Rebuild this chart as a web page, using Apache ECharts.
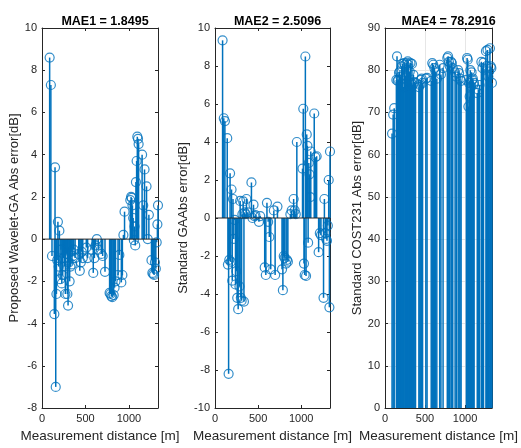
<!DOCTYPE html>
<html>
<head>
<meta charset="utf-8">
<script src="https://cdn.jsdelivr.net/npm/echarts@6/dist/echarts.min.js"></script>
<style>html,body{margin:0;padding:0;background:#fff}#c{width:521px;height:448px}</style>
</head>
<body>
<div id="c"></div>
<script>
// Measurement distances [m]
const dist = [88,102,115,142,150,158,166,175,183,192,200,209,218,228,238,248,258,269,284,292,300,309,318,327,336,345,355,365,381,423,435,447,458,469,510,525,577,590,603,617,631,647,683,698,725,778,788,798,808,825,835,846,875,890,913,925,937,950,1016,1025,1033,1041,1049,1057,1065,1073,1081,1089,1097,1105,1112,1152,1165,1180,1203,1217,1230,1260,1270,1280,1290,1300,1310,1320,1328,1335];
// Proposed Wavelet-GA error [dB]
const waveletErr = [8.6,7.3,-0.8,-3.55,3.4,-7.0,-2.6,-1.0,0.82,-1.3,0.4,-1.9,-0.5,-2.1,-1.7,-0.9,-1.3,-2.6,-0.7,-2.6,-3.15,-1.1,-2.0,-1.3,-0.6,-1.2,-0.8,-0.5,-0.9,-0.7,-1.5,-1.1,-0.6,-0.9,-0.4,-0.9,-0.5,-1.6,-0.9,-0.3,0.0,-0.5,-0.7,-0.8,-1.55,-2.55,-2.6,-2.7,-2.75,-2.65,-2.3,-2.0,-1.7,-0.75,-2.05,-1.7,0.2,1.3,1.85,2.0,1.95,1.6,1.0,-0.05,0.6,-0.3,2.7,3.7,4.85,4.75,4.5,4.0,1.6,3.3,2.5,0.0,1.15,-1.0,-1.6,-1.65,-1.7,-1.1,-1.4,-0.15,0.7,1.6];
// Standard GA error [dB]
const gaErr = [9.35,5.25,5.1,4.2,-2.45,-8.2,-2.2,2.35,-2.3,1.5,-3.3,1.0,-1.1,-0.1,-3.5,-2.8,-4.2,-4.8,-3.6,0.9,-4.2,-4.35,0.2,0.87,-4.4,0.3,0.2,1.0,0.3,1.87,0.0,0.7,0.1,0.15,-0.2,0.1,-2.6,-3.0,0.8,-0.2,-1.0,-2.7,0.4,-3.0,0.6,-2.7,-3.8,-2.0,-2.1,-2.4,-2.2,-2.3,0.2,0.4,1.0,0.4,0.2,4.0,2.6,5.75,-2.4,-3.0,8.5,-3.05,4.4,3.8,-1.3,2.9,2.3,1.1,3.5,5.5,3.2,3.25,-1.8,-0.8,-0.9,-4.2,1.0,-0.8,-1.1,-1.2,-0.4,2.0,-4.7,3.5];
// Standard COST231 error [dB]
const costErr = [65,69.5,71,77.7,83.3,77.5,77.8,79.4,79.7,78.5,77.7,80.9,81.5,76,81.7,81.3,78.7,81.7,82.1,81.3,76,79.7,81.7,77,81.5,76.5,78.9,77.2,77,76,76.5,77.7,78,77,78,78.2,77.5,81.7,81.3,80.5,79.7,78,81.3,79,80.5,82.9,83.3,82,81,82,81.7,80.5,79.5,78.5,80,79.3,78,77.5,77.7,82.9,82.5,71.4,77,73.8,80,76.2,79.5,77.7,78,76.6,77,74.6,75.4,76.5,82,80.5,81.8,84.5,81,84.8,78.5,79.7,85.2,80.9,80.5,77];

const titles = ['MAE1 = 1.8495', 'MAE2 = 2.5096', 'MAE4 = 78.2916'];
const yNames = ['Proposed Wavelet-GA Abs error[dB]', 'Standard GAAbs error[dB]', 'Standard COST231 Abs error[dB]'];
const xName = 'Measurement distance [m]';
const yMin = [-8, -10, 0];
const yMax = [10, 10, 90];
const yStep = [2, 2, 10];
const xTicks = [0, 500, 1000];
const xMax = 1335;

const panels = [waveletErr, gaErr, costErr];
const gridBox = [
  {left: 42, top: 28, width: 116, height: 380},
  {left: 215, top: 28, width: 115, height: 380},
  {left: 385, top: 28, width: 117, height: 380}
];
const nameGaps = [19, 24, 19];
const AX = '#262626';
const BLUE = '#0072BD';
const FONT = 'Liberation Sans, Arial, sans-serif';

const grid = [], xAxis = [], yAxis = [], series = [], title = [];
panels.forEach((vals, i) => {
  grid.push(gridBox[i]);
  const showGrid = i === 2;
  title.push({
    text: titles[i], left: gridBox[i].left + gridBox[i].width / 2, top: 10, textAlign: 'center',
    textStyle: {fontSize: 12.5, fontWeight: 'bold', color: '#000', fontFamily: FONT}
  });
  xAxis.push({
    type: 'value', gridIndex: i, min: 0, max: xMax, interval: 500, position: 'bottom',
    name: xName, nameLocation: 'middle', nameGap: 18,
    nameTextStyle: {fontSize: 13.5, color: AX, fontFamily: FONT},
    axisLine: {show: true, onZero: false, lineStyle: {color: AX, width: 1}},
    axisTick: {show: true, inside: true, length: 3, lineStyle: {color: AX}},
    axisLabel: {show: true, fontSize: 11, color: AX, fontFamily: FONT, margin: 5,
      formatter: v => xTicks.includes(v) ? String(v) : ''},
    splitLine: {show: showGrid, lineStyle: {color: '#e6e6e6', width: 1}}
  });
  xAxis.push({
    type: 'value', gridIndex: i, min: 0, max: xMax, interval: 500, position: 'top',
    axisLine: {show: true, onZero: false, lineStyle: {color: AX, width: 1}},
    axisTick: {show: true, inside: true, length: 3, lineStyle: {color: AX}},
    axisLabel: {show: false}, splitLine: {show: false}
  });
  yAxis.push({
    type: 'value', gridIndex: i, min: yMin[i], max: yMax[i], interval: yStep[i], position: 'left',
    name: yNames[i], nameLocation: 'middle', nameGap: nameGaps[i],
    nameTextStyle: {fontSize: 13, color: AX, fontFamily: FONT},
    axisLine: {show: true, onZero: false, lineStyle: {color: AX, width: 1}},
    axisTick: {show: true, inside: true, length: 3, lineStyle: {color: AX}},
    axisLabel: {show: true, fontSize: 11, color: AX, fontFamily: FONT, margin: 5},
    splitLine: {show: showGrid, lineStyle: {color: '#e6e6e6', width: 1}}
  });
  yAxis.push({
    type: 'value', gridIndex: i, min: yMin[i], max: yMax[i], interval: yStep[i], position: 'right',
    axisLine: {show: true, onZero: false, lineStyle: {color: AX, width: 1}},
    axisTick: {show: true, inside: true, length: 3, lineStyle: {color: AX}},
    axisLabel: {show: false}, splitLine: {show: false}
  });
  const data = dist.map((d, k) => [d, vals[k]]);
  series.push({
    type: 'custom', xAxisIndex: i * 2, yAxisIndex: i * 2, data: data, z: 2, silent: true,
    renderItem: (params, api) => {
      const p0 = api.coord([api.value(0), 0]);
      const p1 = api.coord([api.value(0), api.value(1)]);
      return {type: 'line', shape: {x1: p0[0], y1: p0[1], x2: p1[0], y2: p1[1]},
        style: {stroke: BLUE, lineWidth: 1.5}};
    }
  });
  series.push({
    type: 'scatter', xAxisIndex: i * 2, yAxisIndex: i * 2, data: data, z: 3, silent: true,
    symbol: 'circle', symbolSize: 9,
    itemStyle: {color: 'rgba(0,0,0,0)', borderColor: BLUE, borderWidth: 1.2}
  });
  if (yMin[i] < 0) {
    series.push({
      type: 'line', xAxisIndex: i * 2, yAxisIndex: i * 2, data: [[0, 0], [xMax, 0]], z: 4,
      showSymbol: false, silent: true, lineStyle: {color: AX, width: 1}
    });
  }
});

const chart = echarts.init(document.getElementById('c'), null, {renderer: 'canvas'});
chart.setOption({animation: false, backgroundColor: '#fff', title, grid, xAxis, yAxis, series});
</script>
</body>
</html>
